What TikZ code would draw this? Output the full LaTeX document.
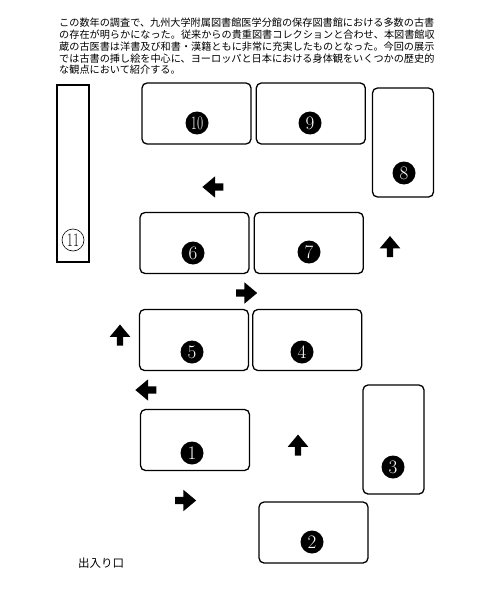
\documentclass[tikz,border=0pt]{standalone}
\usepackage{fontspec}
\newfontfamily\jpfont{Noto Sans CJK JP}
\usetikzlibrary{shapes,arrows,positioning}

\begin{document}
\begin{tikzpicture}[x=1pt, y=-1pt, node distance=4pt,
    room/.style={draw, line width=1.3pt, rounded corners=5pt, minimum width=109pt, minimum height=61pt, inner sep=0pt},
    tallroom/.style={room, minimum width=61pt, minimum height=109pt},
    numdot/.style={circle, fill=black, text=white, minimum size=23pt, inner sep=0pt, font=\fontsize{19}{19}\selectfont},
    flow/.style={single arrow, fill=black, inner xsep=3pt, inner ysep=3.4pt, minimum width=13pt, minimum height=21pt, single arrow tip angle=80}]
    \useasboundingbox (0,0) rectangle (501,591);

    \node (intro) [anchor=north west, inner sep=0pt, align=left, font=\jpfont\fontsize{10.15}{11.8}\selectfont] at (59,18) {この数年の調査で、九州大学附属図書館医学分館の保存図書館における多数の古書\\
        の存在が明らかになった。従来からの貴重図書コレクションと合わせ、本図書館収\\
        蔵の古医書は洋書及び和書・漢籍ともに非常に充実したものとなった。今回の展示\\
        では古書の挿し絵を中心に、ヨーロッパと日本における身体観をいくつかの歴史的\\
        な観点において紹介する。};

    % top row
    \node (b10) [room] at (196.5,113.5) {};
    \node (b9) [room, right=4pt of b10] {};
    \node (b8) [tallroom] at (403,142.5) {};
    \node (b11) [draw, line width=1.8pt, minimum width=32pt, minimum height=177pt] at (73,173.5) {};

    % middle rows
    \node (b6) [room] at (194.5,243) {};
    \node (b7) [room, right=4pt of b6] {};
    \node (b5) [room] at (194,340) {};
    \node (b4) [room, right=3pt of b5] {};

    % bottom
    \node (b1) [room] at (195,440) {};
    \node (b3) [tallroom] at (393.5,439.5) {};
    \node (b2) [room] at (313.5,532.5) {};

    % numbers
    \node (n1) [numdot] at (192,453) {1};
    \node (n2) [numdot] at (312,542) {2};
    \node (n3) [numdot] at (393,467) {3};
    \node (n4) [numdot] at (302,352) {4};
    \node (n5) [numdot] at (192,352) {5};
    \node (n6) [numdot] at (193,253) {6};
    \node (n7) [numdot] at (309,252) {7};
    \node (n8) [numdot] at (404,173) {8};
    \node (n9) [numdot] at (310,123) {9};
    \node (n10) [numdot] at (197,123) {\scalebox{0.7}[1]{10}};
    \node (n11) [circle, draw, line width=0.6pt, minimum size=22pt, inner sep=0pt, font=\fontsize{19}{19}\selectfont] at (73,240) {\scalebox{0.7}[1]{11}};

    % walking direction
    \node (a1) [flow] at (183.5,500.5) {};
    \node (a2) [flow, shape border rotate=90] at (298,447) {};
    \node (a3) [flow, shape border rotate=180] at (148,390) {};
    \node (a4) [flow, shape border rotate=90] at (120,337) {};
    \node (a5) [flow] at (244.5,293) {};
    \node (a6) [flow, shape border rotate=90] at (390,248.5) {};
    \node (a7) [flow, shape border rotate=180] at (215,187) {};

    \node (door) [anchor=west, inner sep=0pt, font=\jpfont\fontsize{11.5}{12}\selectfont] at (78,563) {出入り口};
\end{tikzpicture}
\end{document}
